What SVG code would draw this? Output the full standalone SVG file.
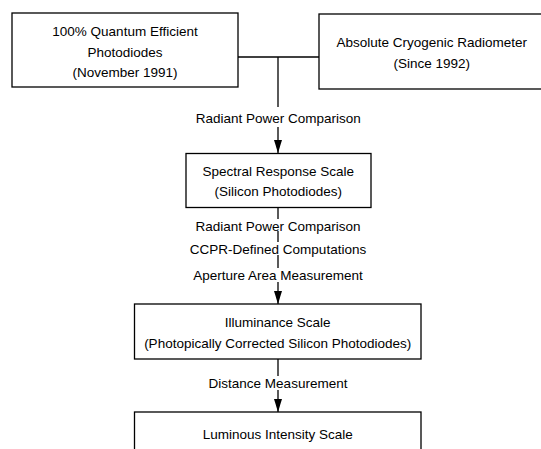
<svg xmlns="http://www.w3.org/2000/svg" width="541" height="449" viewBox="0 0 541 449">
<style>
  .box { fill: #fff; stroke: #000; stroke-width: 1.3; }
  .t { font-family: "Liberation Sans", Arial, sans-serif; font-size: 13.5px; fill: #000; text-anchor: middle; }
  .ln { stroke: #000; stroke-width: 1.3; fill: none; }
</style>
<defs>
  <marker id="ah" markerUnits="userSpaceOnUse" markerWidth="14" markerHeight="9" refX="13" refY="4" orient="auto">
    <path d="M0,0 L13,4 L0,8 z" fill="#000"/>
  </marker>
</defs>
<rect width="541" height="449" fill="#fff"/>
<g id="connectors">
  <line class="ln" x1="238" y1="57" x2="319" y2="57"/>
  <line class="ln" x1="278" y1="57" x2="278" y2="107"/>
  <line class="ln" x1="278" y1="127" x2="278" y2="153" marker-end="url(#ah)"/>
  <text class="t" x="278.3" y="122.5">Radiant Power Comparison</text>
  <line class="ln" x1="278" y1="207.5" x2="278" y2="219"/>
  <line class="ln" x1="278" y1="231" x2="278" y2="242"/>
  <line class="ln" x1="278" y1="255" x2="278" y2="268"/>
  <line class="ln" x1="278" y1="282" x2="278" y2="304" marker-end="url(#ah)"/>
  <text class="t" x="278" y="230.5">Radiant Power Comparison</text>
  <text class="t" x="278" y="254">CCPR-Defined Computations</text>
  <text class="t" x="278" y="279.8">Aperture Area Measurement</text>
  <line class="ln" x1="278" y1="359" x2="278" y2="376"/>
  <line class="ln" x1="278" y1="390" x2="278" y2="412" marker-end="url(#ah)"/>
  <text class="t" x="278" y="388">Distance Measurement</text>
</g>
<g id="node-photodiodes">
  <rect class="box" x="12" y="13" width="226" height="74"/>
  <text class="t" x="125" y="35.5">100% Quantum Efficient</text>
  <text class="t" x="125" y="56.5">Photodiodes</text>
  <text class="t" x="125" y="76.5">(November 1991)</text>
</g>
<g id="node-radiometer">
  <rect class="box" x="319" y="14" width="226" height="75"/>
  <text class="t" x="431.7" y="47">Absolute Cryogenic Radiometer</text>
  <text class="t" x="431.7" y="68">(Since 1992)</text>
</g>
<g id="node-spectral">
  <rect class="box" x="186" y="153.5" width="185" height="54"/>
  <text class="t" x="278.3" y="175.8">Spectral Response Scale</text>
  <text class="t" x="278.3" y="195.8">(Silicon Photodiodes)</text>
</g>
<g id="node-illuminance">
  <rect class="box" x="134.5" y="304" width="286.5" height="55"/>
  <text class="t" x="277.7" y="327">Illuminance Scale</text>
  <text class="t" x="277.7" y="348">(Photopically Corrected Silicon Photodiodes)</text>
</g>
<g id="node-luminous">
  <rect class="box" x="134.5" y="412" width="286.5" height="50"/>
  <text class="t" x="277.7" y="439">Luminous Intensity Scale</text>
</g>
</svg>
